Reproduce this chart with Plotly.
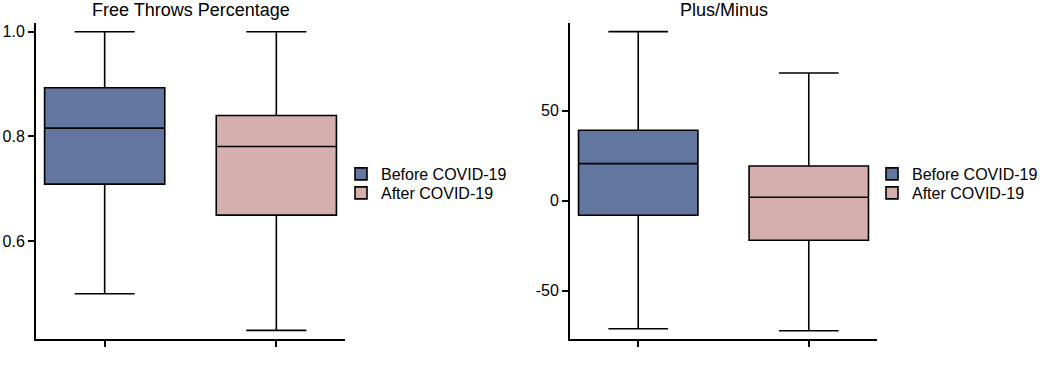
import plotly.graph_objects as go

groups = ["Before COVID-19", "After COVID-19"]
colors = ["#62769f", "#d5aeae"]

# Free Throws Percentage
ft_q1 = [0.709, 0.650]
ft_median = [0.816, 0.781]
ft_q3 = [0.893, 0.840]
ft_low = [0.500, 0.430]
ft_high = [1.000, 1.000]
ft_ticks = [0.6, 0.8, 1.0]
ft_ticktext = ["0.6", "0.8", "1.0"]

# Plus/Minus
pm_q1 = [-8.1, -22.0]
pm_median = [20.6, 1.9]
pm_q3 = [39.2, 19.3]
pm_low = [-71.3, -72.4]
pm_high = [94.1, 71.1]
pm_ticks = [-50, 0, 50]
pm_ticktext = ["-50", "0", "50"]

titles = ["Free Throws Percentage", "Plus/Minus"]

fig = go.Figure()
FONT = "Liberation Sans, Arial, sans-serif"

panels = [
    (ft_q1, ft_median, ft_q3, ft_low, ft_high, "x", "y", ["legend", "legend2"]),
    (pm_q1, pm_median, pm_q3, pm_low, pm_high, "x2", "y2", ["legend3", "legend4"]),
]
for q1, med, q3, lo, hi, xa, ya, lgs in panels:
    for i, g in enumerate(groups):
        fig.add_trace(go.Box(
            name=g, x=[i], q1=[q1[i]], median=[med[i]], q3=[q3[i]],
            lowerfence=[lo[i]], upperfence=[hi[i]],
            fillcolor=colors[i], line=dict(color="black", width=1.6),
            width=0.7, whiskerwidth=0.5, xaxis=xa, yaxis=ya, legend=lgs[i],
            hoverinfo="skip", showlegend=True,
        ))

W, H = 1040, 367
ydom = [(H - 339) / H, (H - 23) / H]
axis_common = dict(showline=True, linecolor="black", linewidth=2, showgrid=False,
                   zeroline=False, ticks="outside", tickcolor="black", tickwidth=2,
                   ticklen=6, tickfont=dict(size=16, family=FONT))


def leg(xpx, ypx):
    return dict(x=xpx / W, y=1 - ypx / H, xanchor="left", yanchor="middle",
                font=dict(size=16, family=FONT), bgcolor="rgba(0,0,0,0)",
                borderwidth=0)


fig.update_layout(
    width=W, height=H, margin=dict(l=0, r=0, t=0, b=0, autoexpand=False),
    paper_bgcolor="white", plot_bgcolor="white",
    font=dict(family=FONT, size=16, color="black"),
    boxmode="overlay",
    xaxis=dict(domain=[36 / W, 345 / W], range=[-0.4, 1.4], tickvals=[0, 1],
               showticklabels=False, anchor="y", **axis_common),
    yaxis=dict(domain=ydom, range=[0.4135, 1.0166], tickvals=ft_ticks,
               ticktext=ft_ticktext, anchor="x", **axis_common),
    xaxis2=dict(domain=[570 / W, 877 / W], range=[-0.4, 1.4], tickvals=[0, 1],
                showticklabels=False, anchor="y2", **axis_common),
    yaxis2=dict(domain=ydom, range=[-77.0, 98.9], tickvals=pm_ticks,
                ticktext=pm_ticktext, anchor="x2", **axis_common),
    legend=leg(341, 174),
    legend2=leg(341, 193),
    legend3=leg(872, 174),
    legend4=leg(872, 193),
    annotations=[
        dict(text=titles[0], x=(36 + 345) / 2 / W, y=1 - 10 / H, xref="paper", yref="paper",
             showarrow=False, font=dict(size=18, family=FONT), xanchor="center", yanchor="middle"),
        dict(text=titles[1], x=(570 + 877) / 2 / W, y=1 - 10 / H, xref="paper", yref="paper",
             showarrow=False, font=dict(size=18, family=FONT), xanchor="center", yanchor="middle"),
    ],
)

fig.write_html("out.html", config={"displayModeBar": False},
               post_script="document.body.style.margin='0';document.body.style.padding='0';")
